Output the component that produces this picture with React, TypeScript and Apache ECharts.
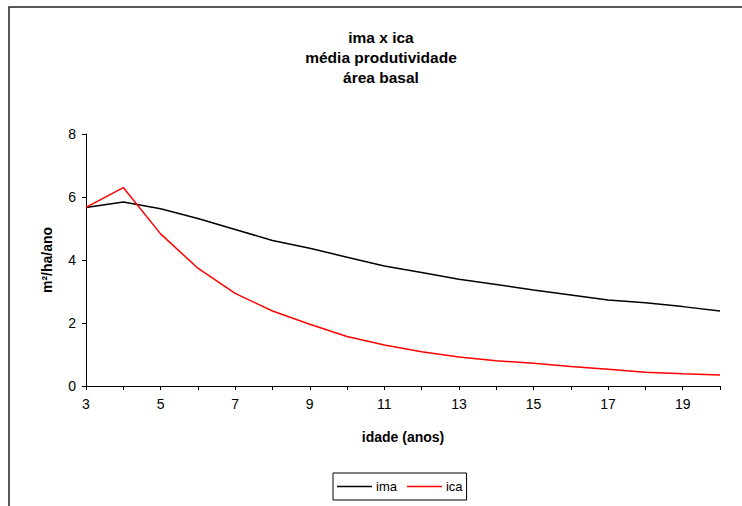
import React, { useEffect, useRef } from "react";
import * as echarts from "echarts";

const ages = [3, 4, 5, 6, 7, 8, 9, 10, 11, 12, 13, 14, 15, 16, 17, 18, 19, 20];
const imaValues = [5.67, 5.84, 5.63, 5.32, 4.97, 4.62, 4.37, 4.09, 3.81, 3.6, 3.39, 3.22, 3.05, 2.89, 2.73, 2.64, 2.52, 2.38];
const icaValues = [5.67, 6.3, 4.83, 3.74, 2.94, 2.38, 1.96, 1.57, 1.3, 1.09, 0.92, 0.8, 0.72, 0.62, 0.53, 0.44, 0.39, 0.35];
const titleLines = ["ima x ica", "média produtividade", "área basal"];
const seriesNames = ["ima", "ica"];
const xAxisTitle = "idade (anos)";
const yAxisTitle = "m²/ha/ano";

export default function App() {
  const ref = useRef<HTMLDivElement>(null);
  useEffect(() => {
    if (!ref.current) return;
    const chart = echarts.init(ref.current, undefined, { renderer: "svg" });
    const font = "'Liberation Sans', Arial, sans-serif";
    chart.setOption({
      animation: false,
      backgroundColor: "#ffffff",
      textStyle: { fontFamily: font },
      graphic: [
        {
          type: "rect",
          shape: { x: 9, y: 7, width: 900, height: 700 },
          style: { fill: "none", stroke: "#222", lineWidth: 1.5 },
          silent: true,
        },
      ],
      title: {
        text: titleLines.join("\n"),
        left: 376,
        top: 22,
        textAlign: "center",
        textStyle: {
          fontFamily: font,
          fontSize: 15.5,
          fontWeight: "bold",
          color: "#000",
          lineHeight: 20,
        },
      },
      legend: {
        data: seriesNames,
        left: 333,
        top: 473,
        orient: "horizontal",
        icon: "rect",
        itemWidth: 35,
        itemHeight: 1.5,
        itemGap: 10,
        padding: [7, 4, 7, 4],
        borderColor: "#000",
        borderWidth: 1,
        borderRadius: 0,
        textStyle: { fontFamily: font, fontSize: 13, color: "#000", padding: [0, 0, 0, -1] },
      },
      grid: { left: 86, right: 22, top: 134, bottom: 120, containLabel: false },
      xAxis: {
        type: "value",
        min: 3,
        max: 20,
        interval: 1,
        name: xAxisTitle,
        nameLocation: "middle",
        nameGap: 44,
        nameTextStyle: { fontFamily: font, fontSize: 14, fontWeight: "bold", color: "#000" },
        axisLine: { show: true, onZero: false, lineStyle: { color: "#000", width: 1 } },
        axisTick: { show: true, length: 4, lineStyle: { color: "#000" } },
        axisLabel: {
          margin: 11,
          fontFamily: font,
          fontSize: 14,
          color: "#000",
          formatter: (v: number) => (v % 2 === 1 ? String(v) : ""),
        },
        splitLine: { show: false },
      },
      yAxis: {
        type: "value",
        min: 0,
        max: 8,
        interval: 2,
        name: yAxisTitle,
        nameLocation: "middle",
        nameGap: 32,
        nameTextStyle: { fontFamily: font, fontSize: 14, fontWeight: "bold", color: "#000" },
        axisLine: { show: true, lineStyle: { color: "#000", width: 1 } },
        axisTick: { show: true, length: 4, lineStyle: { color: "#000" } },
        axisLabel: { margin: 10, fontFamily: font, fontSize: 14, color: "#000" },
        splitLine: { show: false },
      },
      series: [
        {
          name: seriesNames[0],
          type: "line",
          data: ages.map((a, i) => [a, imaValues[i]]),
          symbol: "none",
          lineStyle: { color: "#000", width: 1.5 },
          itemStyle: { color: "#000" },
        },
        {
          name: seriesNames[1],
          type: "line",
          data: ages.map((a, i) => [a, icaValues[i]]),
          symbol: "none",
          lineStyle: { color: "#ff0000", width: 1.5 },
          itemStyle: { color: "#ff0000" },
        },
      ],
    });
    return () => chart.dispose();
  }, []);
  return (
    <div
      ref={ref}
      style={{ position: "fixed", left: 0, top: 0, width: 742, height: 506, background: "#fff" }}
    />
  );
}
